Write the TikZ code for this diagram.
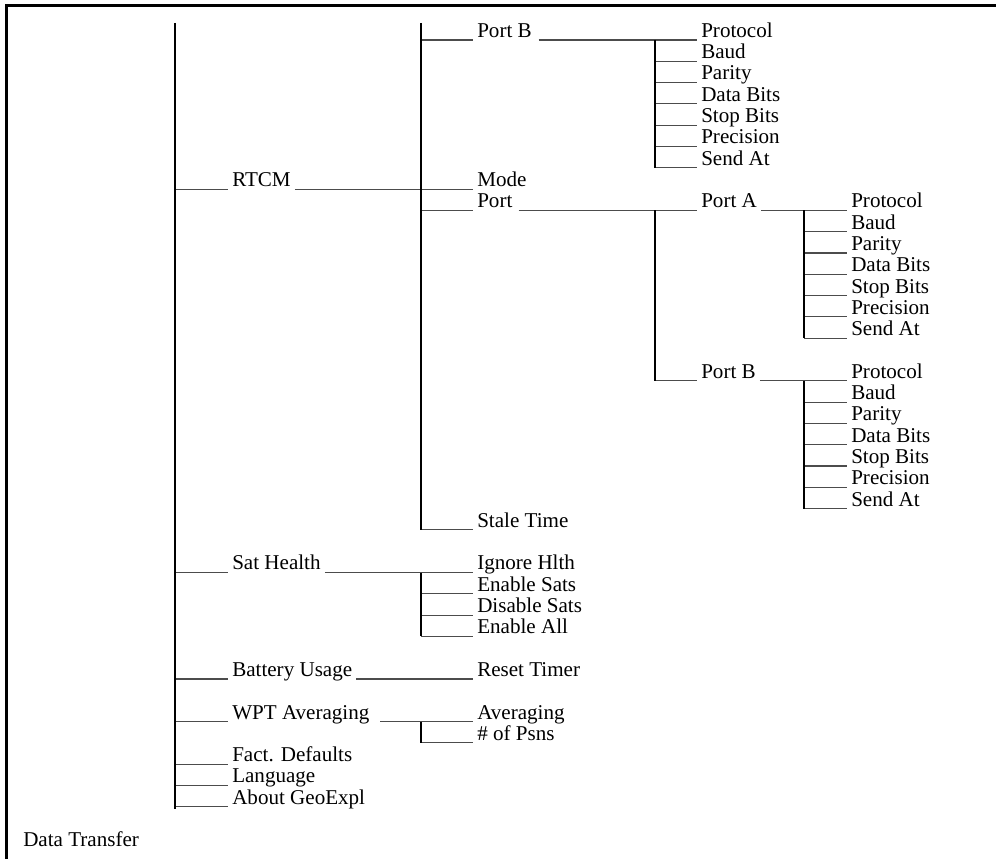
\documentclass[tikz,border=0pt]{standalone}
\usepackage{fontspec}
\setmainfont{Liberation Serif}
\usetikzlibrary{calc}

\begin{document}
\begin{tikzpicture}[
  x=0.75pt,
  y=-15.975pt,
  font=\fontsize{15.8pt}{16pt}\selectfont,
  lbl/.style={anchor=south west, inner xsep=3pt, inner ysep=1.75pt, text depth=0pt},
  rule/.style={draw=black!70, line width=0.8pt},
  bar/.style={draw=black, line width=1.6pt},
  frame/.style={draw=black, line width=2.5pt}
]

\useasboundingbox (0,-1.878) rectangle (996,38.45);

% page frame (top and left edge only)
\coordinate (fr tr) at (996,-1.61);
\coordinate (fr tl) at (6.5,-1.61);
\coordinate (fr bl) at (6.5,38.45);
\draw[frame] (fr tr) -- (fr tl) -- (fr bl);

% bars
\coordinate (b1 top) at (175,-0.8);  \coordinate (b1 bot) at (175,36.1);
\coordinate (b2 top) at (421,-0.8);  \coordinate (b2 bot) at (421,23);
\coordinate (b2s top) at (421,25);   \coordinate (b2s bot) at (421,28);
\coordinate (b2w top) at (421,32);   \coordinate (b2w bot) at (421,33);
\coordinate (b3a top) at (655,0);    \coordinate (b3a bot) at (655,6);
\coordinate (b3b top) at (655,8);    \coordinate (b3b bot) at (655,16);
\coordinate (b4a top) at (804,8);    \coordinate (b4a bot) at (804,14);
\coordinate (b4b top) at (804,16);   \coordinate (b4b bot) at (804,22);

% first level
\node[lbl] (rtcm) at (228,7) {RTCM};
\node[lbl] (sathealth) at (228,25) {Sat Health};
\node[lbl] (battery) at (228,30) {Battery Usage};
\node[lbl] (wpt) at (228,32) {WPT Averaging};
\node[lbl] (factdef) at (228,34) {Fact. Defaults};
\node[lbl] (language) at (228,35) {Language};
\node[lbl] (about) at (228,36) {About GeoExpl};
\node[lbl] (datatr) at (19,38) {Data Transfer};

% second level
\node[lbl] (portb) at (473,0) {Port B};
\node[lbl] (mode) at (473,7) {Mode};
\node[lbl] (port) at (473,8) {Port};
\node[lbl] (stale) at (473,23) {Stale Time};
\node[lbl] (ignore) at (473,25) {Ignore Hlth};
\node[lbl] (ensats) at (473,26) {Enable Sats};
\node[lbl] (dissats) at (473,27) {Disable Sats};
\node[lbl] (enall) at (473,28) {Enable All};
\node[lbl] (reset) at (473,30) {Reset Timer};
\node[lbl] (averaging) at (473,32) {Averaging};
\node[lbl] (npsns) at (473,33) {\# of Psns};

% third level
\foreach \txt [count=\i from 0] in {Protocol,Baud,Parity,Data Bits,Stop Bits,Precision,Send At}
  \node[lbl] (sp\i) at (697,\i) {\txt};
\node[lbl] (porta) at (697,8) {Port A};
\node[lbl] (portb2) at (697,16) {Port B};

% fourth level
\foreach \txt [count=\i from 0] in {Protocol,Baud,Parity,Data Bits,Stop Bits,Precision,Send At} {
  \node[lbl] (sa\i) at (847,8+\i) {\txt};
  \node[lbl] (sb\i) at (847,16+\i) {\txt};
}

% underscores
\foreach \n in {rtcm,sathealth,battery,wpt,factdef,language,about}
  \draw[rule] (b1 top |- \n.south west) -- (\n.south west);
\foreach \n in {portb,port,stale}
  \draw[rule] (b2 top |- \n.south west) -- (\n.south west);
\foreach \n in {ensats,dissats,enall}
  \draw[rule] (b2s top |- \n.south west) -- (\n.south west);
\draw[rule] (b2w top |- npsns.south west) -- (npsns.south west);
\draw[rule] (rtcm.south east) -- (mode.south west);
\draw[rule] (sathealth.south east) -- (ignore.south west);
\draw[rule] (battery.south east) -- (reset.south west);
\draw[rule] ([xshift=5pt]wpt.south east) -- (averaging.south west);

\draw[rule] ([xshift=2pt]portb.south east) -- (sp0.south west);
\draw[rule] ([xshift=1.5pt]port.south east) -- (porta.south west);
\draw[rule] (b3b top |- portb2.south west) -- (portb2.south west);
\draw[rule] (porta.south east) -- (sa0.south west);
\draw[rule] (portb2.south east) -- (sb0.south west);
\foreach \i in {1,...,6} {
  \draw[rule] (b3a top |- sp\i.south west) -- (sp\i.south west);
  \draw[rule] (b4a top |- sa\i.south west) -- (sa\i.south west);
  \draw[rule] (b4b top |- sb\i.south west) -- (sb\i.south west);
}

\foreach \b in {b1,b2,b2s,b2w,b3a,b3b,b4a,b4b}
  \draw[bar] (\b\space top) -- (\b\space bot);

\end{tikzpicture}
\end{document}
